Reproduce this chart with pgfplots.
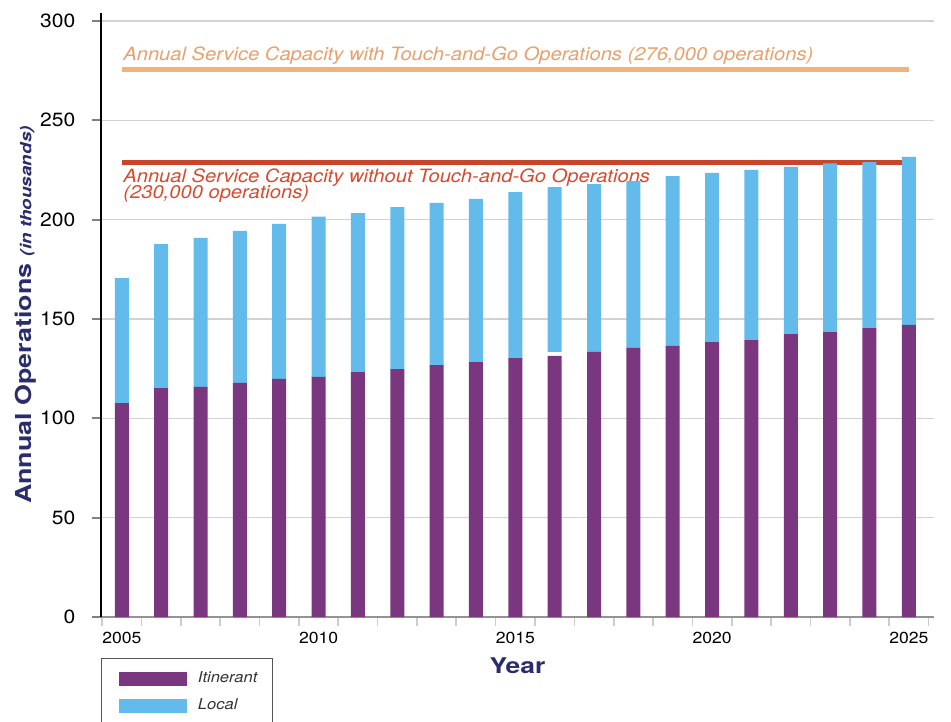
\documentclass[border=0pt]{standalone}
\usepackage{pgfplots}
\pgfplotsset{compat=1.18}
\usepackage{pgfplotstable}
\usepackage{fontspec}
\setmainfont{TeX Gyre Heros}[FakeStretch=1.1]
\newfontfamily\extfont{TeX Gyre Heros}[FakeStretch=1.22]
\definecolor{itin}{HTML}{7B3680}
\definecolor{loc}{HTML}{62BBEA}
\definecolor{redline}{HTML}{CA4427}
\definecolor{redtext}{HTML}{D64A2E}
\definecolor{orangeline}{HTML}{F3B27A}
\definecolor{orangetext}{HTML}{E8A06C}
\definecolor{navy}{HTML}{2B2C6C}
\definecolor{legbox}{HTML}{555555}
\definecolor{legtext}{HTML}{333333}

\pgfplotstableread{
year itin gap local
2005 107.7 0 62.9
2006 115.2 0 72.5
2007 115.8 0 75.0
2008 117.8 0 76.5
2009 119.8 0 78.0
2010 120.8 0 80.7
2011 123.3 0 80.0
2012 124.8 0 81.5
2013 126.8 0 81.6
2014 128.3 0 82.1
2015 130.3 0 83.6
2016 131.4 2.0 83.0
2017 133.4 0 84.5
2018 135.4 0 84.0
2019 136.4 0 85.5
2020 138.4 0 85.1
2021 139.4 0 85.6
2022 142.4 0 84.1
2023 143.4 0 84.9
2024 145.4 0 83.6
2025 147.0 0 84.6
}\ops

\pgfplotsset{
  mylegend/.style={legend image code/.code={%
      \path[fill=none,draw=none] (0bp,-8.1bp) rectangle (44bp,8.1bp);
      \fill[##1,draw=none] (3.2bp,-4.2bp) rectangle (44bp,4.2bp);}},
}

\begin{document}
\begin{tikzpicture}
\begin{axis}[
  name=ax, at={(0,0)}, anchor=south west,
  scale only axis, width=499.8bp, height=362.4bp,
  xmin=2004.47, xmax=2025.64, ymin=0, ymax=304,
  ybar stacked, bar width=8.4bp,
  axis lines*=left,
  x axis line style={draw=gray!85, line width=1bp},
  y axis line style={draw=black, line width=0.8bp},
  ytick={0,50,...,300},
  xtick={2005,2010,2015,2020,2025},
  minor xtick={2004.5,2005.5,...,2025.5},
  tick align=outside,
  major tick length=5.4bp, minor tick length=5.4bp,
  major x tick style={draw=none},
  minor x tick style={draw=gray!40, line width=1bp},
  y tick style={draw=gray, line width=1.2bp},
  ymajorgrids,
  grid style={draw=gray!35, line width=0.8bp},
  /pgf/number format/1000 sep={},
  /pgf/number format/assume math mode=true,
  xticklabel style={font=\fontsize{9.6bp}{11bp}\selectfont, text=black},
  yticklabel style={font=\fontsize{11.5bp}{13bp}\selectfont, text=black, xshift=-6.5bp},
  xlabel={Year},
  xlabel style={font=\extfont\bfseries\fontsize{13bp}{15bp}\selectfont, text=navy,
    at={(axis description cs:0.5,-0.0811)}, anchor=center},
  ylabel={Annual Operations {\fontsize{9.3bp}{11bp}\selectfont\itshape(in thousands)}},
  ylabel style={font=\extfont\bfseries\fontsize{13.2bp}{15bp}\selectfont, text=navy,
    at={(axis description cs:-0.0905,0.5)}, anchor=center},
  legend cell align=left,
  legend style={at={(axis description cs:0,0)}, anchor=north west, yshift=-24.6bp,
    draw=legbox, line width=0.8bp, inner xsep=7bp, inner ysep=3.9bp,
    column sep=4.8bp, font=\fontsize{9bp}{10bp}\selectfont\itshape, text=legtext},
]
\addplot[fill=itin, draw=none, mylegend] table[x=year, y=itin] {\ops};
\addlegendentry{Itinerant}
\addplot[fill=white, draw=none, forget plot] table[x=year, y=gap] {\ops};
\addplot[fill=loc, draw=none, mylegend] table[x=year, y=local] {\ops};
\addlegendentry{Local}
\addplot[sharp plot, stack plots=false, forget plot, draw=orangeline, line width=3bp, no markers]
  coordinates {(2005,275.5) (2025,275.5)};
\addplot[sharp plot, stack plots=false, forget plot, draw=redline, line width=3bp, no markers]
  coordinates {(2005,228.8) (2025,228.8)};
\node[anchor=base west, inner sep=0pt, text=orangetext, font=\fontsize{11bp}{13bp}\selectfont\itshape]
  at (axis cs:2005.03,280.0) {Annual Service Capacity with Touch-and-Go Operations (276,000 operations)};
\node[anchor=base west, inner sep=0pt, text=redtext, font=\fontsize{11bp}{13bp}\selectfont\itshape]
  at (axis cs:2005.03,218.9) {Annual Service Capacity without Touch-and-Go Operations};
\node[anchor=base west, inner sep=0pt, text=redtext, font=\fontsize{11bp}{13bp}\selectfont\itshape]
  at (axis cs:2005.03,210.6) {(230,000 operations)};
\end{axis}
\pgfresetboundingbox
\path[use as bounding box] ([shift={(-60.6bp,-62.4bp)}]ax.south west) rectangle ([shift={(510bp,370.2bp)}]ax.south west);
\end{tikzpicture}
\end{document}
